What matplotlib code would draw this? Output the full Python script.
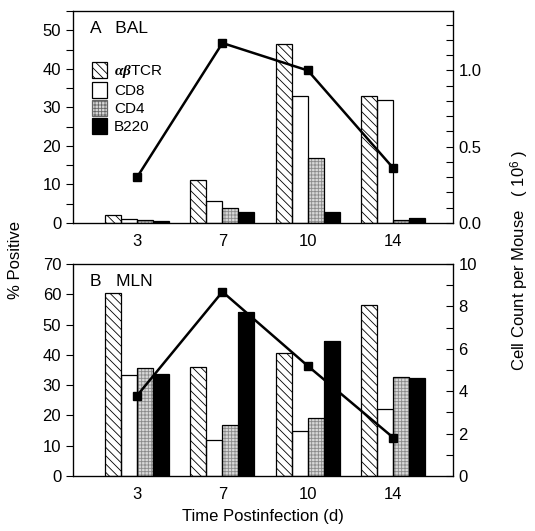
import numpy as np
import matplotlib
matplotlib.use("Agg")
import matplotlib.pyplot as plt
from matplotlib.patches import Patch
from matplotlib.ticker import MultipleLocator

plt.rcParams['font.family'] = ['Liberation Sans', 'DejaVu Sans']
plt.rcParams['mathtext.fontset'] = 'custom'
plt.rcParams['mathtext.rm'] = 'Liberation Sans'
plt.rcParams['mathtext.it'] = 'Liberation Serif:italic'
plt.rcParams['mathtext.bf'] = 'Liberation Serif:bold:italic'
plt.rcParams['hatch.linewidth'] = 0.6

days = ["3", "7", "10", "14"]
series = ["αβTCR", "CD8", "CD4", "B220"]

bal_tcr = [2.0, 11.1, 46.5, 33.0]
bal_cd8 = [1.1, 5.7, 33.0, 31.9]
bal_cd4 = [0.7, 4.0, 16.8, 0.7]
bal_b220 = [0.4, 2.8, 2.8, 1.2]
bal_count = [0.30, 1.18, 1.00, 0.36]

mln_tcr = [60.5, 35.9, 40.7, 56.4]
mln_cd8 = [33.3, 11.8, 15.0, 22.1]
mln_cd4 = [35.5, 16.7, 19.1, 32.8]
mln_b220 = [33.6, 54.2, 44.6, 32.4]
mln_count = [3.79, 8.69, 5.19, 1.81]

W, H = 535, 531
fig = plt.figure(figsize=(W / 100, H / 100), dpi=100)

def pos(l, t, r, b):
    return [l / W, 1 - b / H, (r - l) / W, (b - t) / H]

styles = [
    dict(face="white", hatch="\\\\\\\\", hcol="black"),
    dict(face="white", hatch=None, hcol="black"),
    dict(face="#d8d8d8", hatch="+++++", hcol="#8a8a8a"),
    dict(face="black", hatch=None, hcol="black"),
]

bw = 0.1875
x = np.arange(len(days))

def draw_panel(ax, data, count, ylim, rlim, major, minor, rmajor, rminor, label, rfmt):
    for i, (vals, st) in enumerate(zip(data, styles)):
        xs = x + (i - 1.5) * bw
        ax.bar(xs, vals, width=bw, color=st["face"], hatch=st["hatch"],
               edgecolor=st["hcol"], linewidth=0, zorder=2)
        ax.bar(xs, vals, width=bw, fill=False, edgecolor="black", linewidth=0.9, zorder=3)
    ax.set_xlim(-0.75, 3.7)
    ax.set_ylim(*ylim)
    ax.set_xticks(x)
    ax.set_xticklabels(days)
    ax.tick_params(axis="x", length=0, pad=8, labelsize=12)
    ax.yaxis.set_major_locator(MultipleLocator(major))
    ax.yaxis.set_minor_locator(MultipleLocator(minor))
    ax.tick_params(axis="y", which="major", direction="out", length=5, labelsize=12, width=0.8)
    ax.tick_params(axis="y", which="minor", direction="out", length=5, width=0.8)
    for s in ax.spines.values():
        s.set_linewidth(0.9)
    ax2 = ax.twinx()
    ax2.plot(x, count, color="black", lw=1.8, marker="s", ms=6, zorder=5)
    ax2.set_ylim(*rlim)
    ax2.yaxis.set_major_locator(MultipleLocator(rmajor))
    ax2.yaxis.set_minor_locator(MultipleLocator(rminor))
    ax2.yaxis.set_major_formatter(rfmt)
    ax2.tick_params(axis="y", which="both", direction="in", length=5, labelsize=12, width=0.8, pad=4)
    ax.text(0.045, 0.955, label, transform=ax.transAxes, fontsize=12.5, va="top", ha="left")
    return ax2

axA = fig.add_axes(pos(73, 11, 453, 223))
draw_panel(axA, [bal_tcr, bal_cd8, bal_cd4, bal_b220], bal_count, (0, 55), (0, 1.39),
           10, 5, 0.5, 0.1, "A   BAL", matplotlib.ticker.FormatStrFormatter("%.1f"))

axB = fig.add_axes(pos(73, 264, 453, 476))
draw_panel(axB, [mln_tcr, mln_cd8, mln_cd4, mln_b220], mln_count, (0, 70), (0, 10),
           10, 10, 2, 1, "B   MLN", matplotlib.ticker.FormatStrFormatter("%d"))

handles = [Patch(facecolor=st["face"], hatch=st["hatch"], edgecolor="black", linewidth=0.9)
           for st in styles]
handles[2] = Patch(facecolor="#d8d8d8", hatch="+++++", edgecolor="#666666", linewidth=0.9)
labels = [r"$\mathbf{\alpha\beta}$TCR", "CD8", "CD4", "B220"]
leg = axA.legend(handles, labels, loc="upper left", bbox_to_anchor=(0.05, 0.76),
                 frameon=False, fontsize=11, handlelength=1.0, handleheight=1.25,
                 handletextpad=0.45, labelspacing=0.12, borderaxespad=0, borderpad=0)

fig.text(16 / W, 1 - 260 / H, "% Positive", rotation=90, fontsize=12, ha="center", va="center")
fig.text(520 / W, 1 - 260 / H, "Cell Count per Mouse   ( $10^6$ )", rotation=90, fontsize=12,
         ha="center", va="center")
fig.text(263 / W, 1 - 517 / H, "Time Postinfection (d)", fontsize=12, ha="center", va="center")

fig.savefig("out.png", dpi=100)
